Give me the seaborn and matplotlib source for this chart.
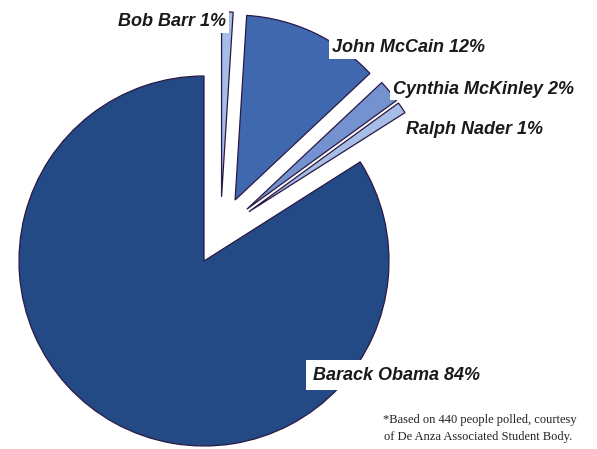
import matplotlib
matplotlib.use("Agg")
import numpy as np
import matplotlib.pyplot as plt
import seaborn as sns

# === Dati ===
candidates = ["Barack Obama", "Ralph Nader", "Cynthia McKinley", "John McCain", "Bob Barr"]
shares = [84, 1, 2, 12, 1]
colors = ["#234A85", "#A6BDE5", "#7392CF", "#4068AF", "#A6BDE5"]
explode = [0.0, 0.185, 0.185, 0.185, 0.185]
group_shift = 0.185   # i candidati minori sono staccati anche come gruppo

sns.set_style("white")

W, H = 597, 449
R = 185            # pixel per unita' (raggio)
cx, cy = 204, 261  # centro torta in pixel (dall'alto)

fig = plt.figure(figsize=(W / 100, H / 100), dpi=100)
ax = fig.add_axes([0, 0, 1, 1])
wedges, _ = ax.pie(shares, colors=colors, explode=explode, startangle=90,
                   counterclock=True,
                   wedgeprops=dict(edgecolor="#2A1845", linewidth=0.9))

# spostamento del gruppo lungo la bisettrice dei candidati minori
start = 90 + 360 * shares[0] / sum(shares)
mid = np.deg2rad((start + 450) / 2)
for w in wedges[1:]:
    x0, y0 = w.center
    w.set_center((x0 + group_shift * np.cos(mid), y0 + group_shift * np.sin(mid)))

ax.set_xlim(-cx / R, (W - cx) / R)
ax.set_ylim(-(H - cy) / R, cy / R)
ax.set_aspect("auto")
ax.axis("off")

# === Etichette ===
lab = dict(fontsize=13, fontweight="bold", fontstyle="italic",
           family=["Liberation Sans", "DejaVu Sans"], color="#1a1a1a", va="center",
           bbox=dict(facecolor="white", edgecolor="none", pad=2))


def px(x, y):
    return x / W, 1 - y / H


fig.text(*px(226, 22), f"{candidates[4]} {shares[4]}%", ha="right", **lab)
fig.text(*px(332, 48), f"{candidates[3]} {shares[3]}%", ha="left", **lab)
fig.text(*px(393, 89), f"{candidates[2]} {shares[2]}%", ha="left", **lab)
fig.text(*px(406, 130), f"{candidates[1]} {shares[1]}%", ha="left", **lab)
lab_o = dict(lab, bbox=dict(facecolor="white", edgecolor="none", pad=5))
fig.text(*px(313, 375), f"{candidates[0]} {shares[0]}%", ha="left", **lab_o)

note = dict(fontsize=9, family=["Liberation Serif", "DejaVu Serif"], color="#222222",
            ha="right", va="center")
fig.text(*px(577, 420), "*Based on 440 people polled, courtesy", **note)
fig.text(*px(572, 437), "of De Anza Associated Student Body.", **note)

plt.savefig("out.png", dpi=100)
plt.close()
